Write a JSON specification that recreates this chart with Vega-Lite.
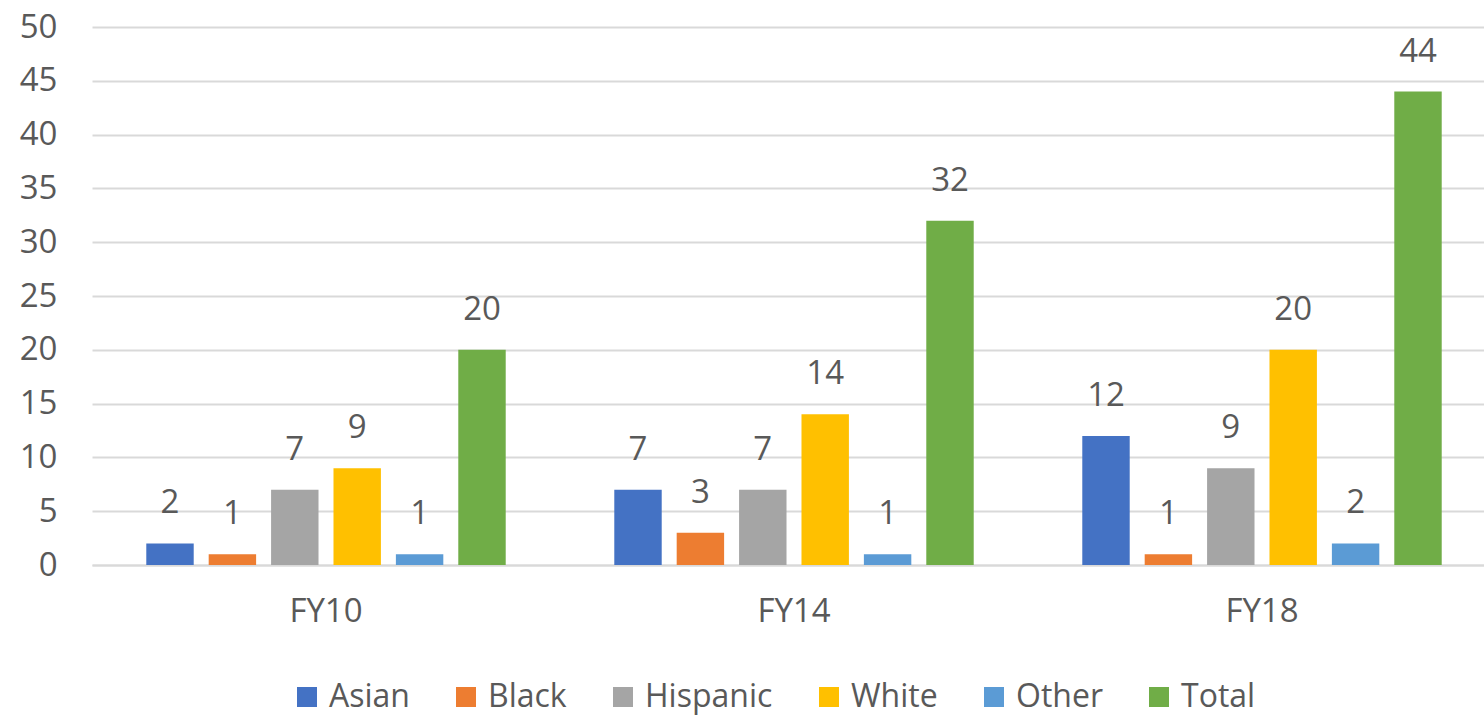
{
  "$schema": "https://vega.github.io/schema/vega-lite/v6.json",
  "width": 1392,
  "height": 538,
  "autosize": {"type": "none"},
  "padding": {"left": 92, "top": 27, "right": 0, "bottom": 155},
  "background": "white",
  "config": {
    "view": {"stroke": null},
    "font": "Open Sans",
    "axis": {"labelColor": "#595959", "labelFont": "Open Sans", "labelFontSize": 33}
  },
  "data": {
    "values": [
      {"year": "FY10", "group": "Asian", "count": 2},
      {"year": "FY10", "group": "Black", "count": 1},
      {"year": "FY10", "group": "Hispanic", "count": 7},
      {"year": "FY10", "group": "White", "count": 9},
      {"year": "FY10", "group": "Other", "count": 1},
      {"year": "FY10", "group": "Total", "count": 20},
      {"year": "FY14", "group": "Asian", "count": 7},
      {"year": "FY14", "group": "Black", "count": 3},
      {"year": "FY14", "group": "Hispanic", "count": 7},
      {"year": "FY14", "group": "White", "count": 14},
      {"year": "FY14", "group": "Other", "count": 1},
      {"year": "FY14", "group": "Total", "count": 32},
      {"year": "FY18", "group": "Asian", "count": 12},
      {"year": "FY18", "group": "Black", "count": 1},
      {"year": "FY18", "group": "Hispanic", "count": 9},
      {"year": "FY18", "group": "White", "count": 20},
      {"year": "FY18", "group": "Other", "count": 2},
      {"year": "FY18", "group": "Total", "count": 44}
    ]
  },
  "encoding": {
    "x": {
      "field": "year",
      "type": "nominal",
      "title": null,
      "scale": {"range": [0, 1404], "paddingInner": 0.2, "paddingOuter": 0.1},
      "axis": {
        "labelAngle": 0,
        "ticks": false,
        "domain": true,
        "domainColor": "#D9D9D9",
        "domainWidth": 2,
        "labelPadding": 30,
        "grid": false
      }
    },
    "xOffset": {
      "field": "group",
      "type": "nominal",
      "sort": ["Asian", "Black", "Hispanic", "White", "Other", "Total"],
      "scale": {"paddingInner": 0.24, "paddingOuter": 0.12}
    },
    "y": {
      "field": "count",
      "type": "quantitative",
      "title": null,
      "scale": {"domain": [0, 50], "nice": false},
      "axis": {
        "values": [0, 5, 10, 15, 20, 25, 30, 35, 40, 45, 50],
        "ticks": false,
        "domain": false,
        "grid": true,
        "gridColor": "#D9D9D9",
        "gridWidth": 2,
        "labelPadding": 35
      }
    }
  },
  "layer": [
    {
      "mark": {"type": "bar"},
      "encoding": {
        "color": {
          "field": "group",
          "type": "nominal",
          "sort": ["Asian", "Black", "Hispanic", "White", "Other", "Total"],
          "scale": {
            "domain": ["Asian", "Black", "Hispanic", "White", "Other", "Total"],
            "range": ["#4472C4", "#ED7D31", "#A5A5A5", "#FFC000", "#5B9BD5", "#70AD47"]
          },
          "legend": {
            "title": null,
            "orient": "none",
            "direction": "horizontal",
            "legendX": 199,
            "legendY": 654,
            "padding": 0,
            "symbolType": "square",
            "symbolSize": 400,
            "symbolStrokeWidth": 0,
            "labelFontSize": 32,
            "labelColor": "#595959",
            "labelFont": "Open Sans",
            "labelOffset": 6,
            "columnPadding": 40
          }
        }
      }
    },
    {
      "mark": {"type": "text", "baseline": "alphabetic", "dy": -30, "fontSize": 33, "color": "#595959", "font": "Open Sans"},
      "encoding": {
        "text": {"field": "count", "type": "quantitative"}
      }
    }
  ]
}
